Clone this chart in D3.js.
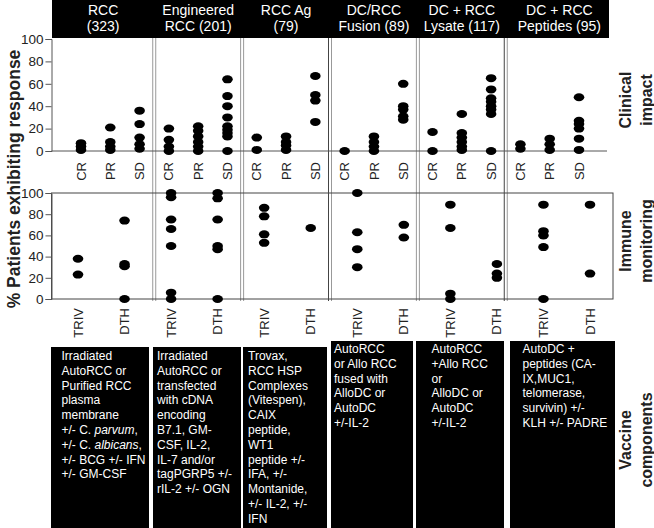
<!DOCTYPE html>
<html><head><meta charset="utf-8">
<script src="https://cdn.jsdelivr.net/npm/d3@7"></script>
<style>
html,body{margin:0;padding:0;background:#fff;}
svg{display:block;font-family:"Liberation Sans",Arial,Helvetica,sans-serif;}
</style></head>
<body>
<svg id="chart" width="654" height="528"></svg>
<script>
// ---------- DATA ----------
const headerLine1 = ["RCC","Engineered","RCC Ag","DC/RCC","DC + RCC","DC + RCC"];
const headerLine2 = ["(323)","RCC (201)","(79)","Fusion (89)","Lysate (117)","Peptides (95)"];
const clinicalCats = ["CR","PR","SD"];
const immuneCats = ["TRIV","DTH"];
const yTicks = [0,20,40,60,80,100];

// Clinical impact (% patients) per vaccine group
const crValues = [[1,4,7],[0,4,10,20],[1,12],[0],[0,17],[2,6]];
const prValues = [[1,4,8,21],[0,4,8,13,18,22],[1,5,8,13],[0,4,8,13],[1,4,8,12,16,33],[1,6,11]];
const sdValues = [[2,6,12,24,36],[0,13,16,19,22,30,40,49,64],[26,45,50,67],[28,31,37,40,60],[0,33,37,40,44,47,55,65],[1,11,20,24,27,48]];

// Immune monitoring (% patients) per vaccine group
const trivValues = [[23,38],[0,6,50,66,75,96,100],[53,61,78,86],[30,47,63,100],[0,5,67,89],[0,49,60,64,89]];
const dthValues = [[0,31,33,74],[0,47,50,75,95,100],[67],[58,70],[20,24,33],[24,89]];

// Vaccine components text
const vaccineText = [
  ["Irradiated","AutoRCC or","Purified RCC","plasma","membrane","+/- C. |parvum|,","+/- C. |albicans|,","+/- BCG +/- IFN","+/- GM-CSF"],
  ["Irradiated","AutoRCC or","transfected","with cDNA","encoding","B7.1, GM-","CSF, IL-2,","IL-7 and/or","tagPGRP5 +/-","rIL-2 +/- OGN"],
  ["Trovax,","RCC HSP","Complexes","(Vitespen),","CAIX","peptide,","WT1","peptide +/-","IFA, +/-","Montanide,","+/- IL-2, +/-","IFN"],
  ["AutoRCC","or Allo RCC","fused with","AlloDC or","AutoDC","+/-IL-2"],
  ["AutoRCC","+Allo RCC","or","AlloDC or","AutoDC","+/-IL-2"],
  ["AutoDC +","peptides (CA-","IX,MUC1,","telomerase,","survivin) +/-","KLH +/- PADRE"]
];
const rowLabels = [["Clinical","impact"],["Immune","monitoring"],["Vaccine","components"]];
const yTitle = "% Patients exhibiting response";

// ---------- LAYOUT ----------
const svg = d3.select("#chart");
const axisX = 51.5;
const topP = {y0:151, y100:39, xFirst:81, xLast:579, right:607};
const botP = {y0:299, y100:193, xFirst:78, xLast:590, right:613};
const headerLeft = 52, headerRight = 609, headerH = 38;
const dividerTop = 38, dividerBottom = 301;

const nG = headerLine1.length;
const topKeys = d3.range(nG).flatMap(g => clinicalCats.map(c => g+"|"+c));
const botKeys = d3.range(nG).flatMap(g => immuneCats.map(c => g+"|"+c));
const xTop = d3.scalePoint().domain(topKeys).range([topP.xFirst, topP.xLast]);
const xBot = d3.scalePoint().domain(botKeys).range([botP.xFirst, botP.xLast]);
const yTop = d3.scaleLinear().domain([0,100]).range([topP.y0, topP.y100]);
const yBot = d3.scaleLinear().domain([0,100]).range([botP.y0, botP.y100]);

const dividers = d3.range(1,nG).map(g => (xTop((g-1)+"|SD") + xTop(g+"|CR"))/2);
const bounds = [headerLeft, ...dividers, headerRight];

// ---------- HEADER ----------
svg.append("rect").attr("x",headerLeft).attr("y",0).attr("width",headerRight-headerLeft).attr("height",headerH).attr("fill","#000");
headerLine1.forEach((t,i)=>{
  const cx = (bounds[i]+bounds[i+1])/2 + (i===nG-1?2:0);
  svg.append("text").attr("x",cx).attr("y",15).attr("text-anchor","middle").attr("fill","#fff").attr("font-size",14).text(t);
  svg.append("text").attr("x",cx).attr("y",30.5).attr("text-anchor","middle").attr("fill","#fff").attr("font-size",14).text(headerLine2[i]);
});

// ---------- DIVIDERS ----------
dividers.forEach((d,i)=>{
  const dark = (i===2 || i===4);
  svg.append("line").attr("x1",d-1.5).attr("x2",d-1.5).attr("y1",dividerTop).attr("y2",dividerBottom)
    .attr("stroke", dark?"#444":"#999").attr("stroke-width",1);
  svg.append("line").attr("x1",d+1.5).attr("x2",d+1.5).attr("y1",dividerTop).attr("y2",dividerBottom)
    .attr("stroke","#999").attr("stroke-width",1);
});

// ---------- AXES ----------
svg.append("line").attr("x1",axisX).attr("x2",topP.right).attr("y1",topP.y0).attr("y2",topP.y0).attr("stroke","#555");
const axT = svg.append("g").attr("transform",`translate(${axisX},0)`)
  .call(d3.axisLeft(yTop).tickValues(yTicks).tickSize(6).tickPadding(2));
svg.append("rect").attr("x",axisX).attr("y",botP.y100).attr("width",botP.right-axisX).attr("height",botP.y0-botP.y100)
  .attr("fill","none").attr("stroke","#444");
const axB = svg.append("g").attr("transform",`translate(${axisX},0)`)
  .call(d3.axisLeft(yBot).tickValues(yTicks).tickSize(6).tickPadding(2));
[axT,axB].forEach(a=>{
  a.select(".domain").attr("stroke","#555");
  a.selectAll(".tick line").attr("stroke","#555");
  a.selectAll(".tick text").attr("font-size",13.5).attr("fill","#222").attr("font-family","Liberation Sans, Arial, sans-serif");
});

// ---------- POINTS ----------
const clinicalSeries = {CR:crValues, PR:prValues, SD:sdValues};
const topPts = [];
d3.range(nG).forEach(g => clinicalCats.forEach(c => clinicalSeries[c][g].forEach(v => topPts.push({k:g+"|"+c, v}))));
svg.append("g").selectAll("ellipse").data(topPts).join("ellipse")
  .attr("cx",d=>xTop(d.k)).attr("cy",d=>yTop(d.v)).attr("rx",5.3).attr("ry",4).attr("fill","#000");

const immuneSeries = {TRIV:trivValues, DTH:dthValues};
const botPts = [];
d3.range(nG).forEach(g => immuneCats.forEach(c => immuneSeries[c][g].forEach(v => botPts.push({k:g+"|"+c, v}))));
svg.append("g").selectAll("ellipse").data(botPts).join("ellipse")
  .attr("cx",d=>xBot(d.k)).attr("cy",d=>yBot(d.v)).attr("rx",5.3).attr("ry",4).attr("fill","#000");

// x labels (rotated)
svg.append("g").selectAll("text").data(topKeys).join("text")
  .attr("transform",d=>`translate(${xTop(d)},162) rotate(-90)`)
  .attr("text-anchor","end").attr("dy","0.35em").attr("font-size",13).attr("fill","#222")
  .text(d=>d.split("|")[1]);
svg.append("g").selectAll("text").data(botKeys).join("text")
  .attr("transform",d=>`translate(${xBot(d)},308) rotate(-90)`)
  .attr("text-anchor","end").attr("dy","0.35em").attr("font-size",13).attr("fill","#222")
  .text(d=>d.split("|")[1]);

// ---------- Y TITLE ----------
svg.append("text").attr("transform","translate(14,179) rotate(-90)").attr("text-anchor","middle").attr("dy","0.35em")
  .attr("font-size",17.5).attr("font-weight","bold").attr("fill","#222").text(yTitle);

// ---------- ROW LABELS ----------
const rowCY = [100, 241, 440];
rowLabels.forEach((lines,i)=>{
  lines.forEach((t,j)=>{
    svg.append("text").attr("transform",`translate(${625+j*21},${rowCY[i]}) rotate(-90)`)
      .attr("text-anchor","middle").attr("dy","0.35em").attr("font-size",16).attr("font-weight","bold").attr("fill","#222").text(t);
  });
});

// ---------- VACCINE BOXES ----------
const boxX = [[51,149],[153,241],[243,327],[331,413],[416,504],[510,615]];
const boxTop = [347,347,347,341,341,341];
const textX = [61.5,157,248,334,431.5,522.5];
const textBase = [360,360,360,353,353,353];
vaccineText.forEach((lines,i)=>{
  svg.append("rect").attr("x",boxX[i][0]).attr("y",boxTop[i]).attr("width",boxX[i][1]-boxX[i][0]).attr("height",528-boxTop[i]).attr("fill","#000");
  lines.forEach((ln,j)=>{
    const t = svg.append("text").attr("x",textX[i]).attr("y",textBase[i]+j*14.8).attr("fill","#fff").attr("font-size",12);
    ln.split("|").forEach((part,p)=>{
      t.append("tspan").attr("font-style", p%2===1?"italic":"normal").text(part);
    });
  });
});
</script>
</body></html>
